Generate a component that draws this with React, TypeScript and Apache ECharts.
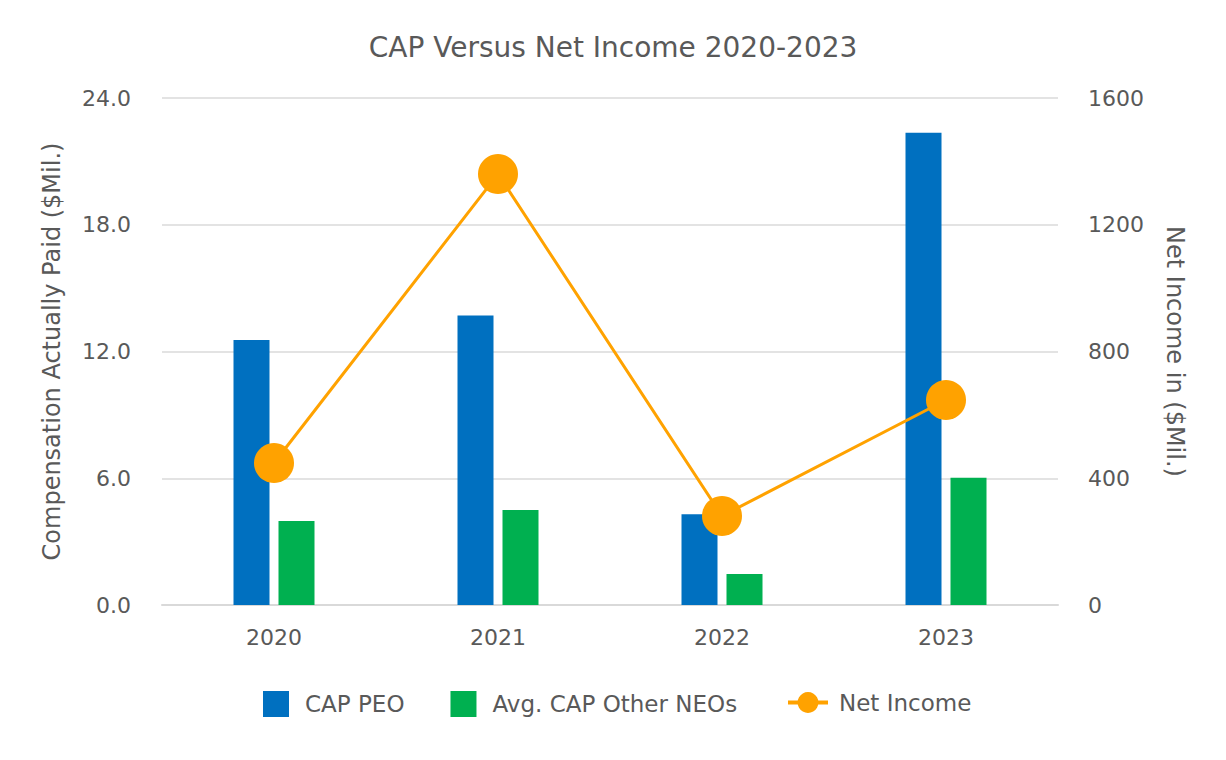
import React, { useEffect, useRef } from "react";
import * as echarts from "echarts";

const categories = ["2020", "2021", "2022", "2023"];
const capPeo = [12.55, 13.7, 4.3, 22.35];
const capNeo = [3.98, 4.5, 1.47, 6.02];
const netIncome = [448, 1360, 281, 647];

const FONT = "'DejaVu Sans', sans-serif";
const TXT = "#595959";

export default function App() {
  const ref = useRef<HTMLDivElement>(null);
  useEffect(() => {
    if (!ref.current) return;
    const chart = echarts.init(ref.current, undefined, { renderer: "svg" });
    const legendText = { fontFamily: FONT, color: TXT, fontSize: 23, padding: [0, 0, 0, 11] };
    chart.setOption({
      animation: false,
      textStyle: { fontFamily: FONT, color: TXT },
      title: {
        text: "CAP Versus Net Income 2020-2023",
        left: "center",
        top: 28,
        textStyle: { fontFamily: FONT, color: TXT, fontSize: 28, fontWeight: "normal" },
      },
      legend: [
        {
          left: 258,
          top: 686,
          itemWidth: 26,
          itemHeight: 26,
          itemGap: 46,
          textStyle: legendText,
          data: [
            { name: "CAP PEO", icon: "rect" },
            { name: "Avg. CAP Other NEOs", icon: "rect" },
          ],
        },
        {
          left: 781,
          top: 686,
          itemWidth: 40,
          itemHeight: 26,
          textStyle: { ...legendText, padding: [0, 0, 0, 6] },
          data: [{ name: "Net Income", lineStyle: { width: 4 } }],
        },
      ],
      grid: { left: 162, right: 168, top: 98, bottom: 155 },
      xAxis: {
        type: "category",
        data: categories,
        axisTick: { show: false },
        axisLine: { lineStyle: { color: "#D9D9D9", width: 2 } },
        axisLabel: { color: TXT, fontSize: 22, margin: 21, fontFamily: FONT },
      },
      yAxis: [
        {
          type: "value",
          min: 0,
          max: 24,
          interval: 6,
          name: "Compensation Actually Paid ($Mil.)",
          nameLocation: "middle",
          nameGap: 98,
          nameTextStyle: { color: TXT, fontSize: 24, fontFamily: FONT },
          axisLabel: {
            color: TXT,
            fontSize: 22,
            margin: 31,
            fontFamily: FONT,
            formatter: (v: number) => v.toFixed(1),
          },
          splitLine: { lineStyle: { color: "#E3E3E3", width: 2 } },
          axisLine: { show: false },
          axisTick: { show: false },
        },
        {
          type: "value",
          min: 0,
          max: 1600,
          interval: 400,
          name: "Net Income in ($Mil.)",
          nameLocation: "middle",
          nameGap: 105,
          nameRotate: -90,
          nameTextStyle: { color: TXT, fontSize: 24, fontFamily: FONT },
          axisLabel: {
            color: TXT,
            fontSize: 22,
            margin: 30,
            fontFamily: FONT,
            formatter: (v: number) => String(v),
          },
          splitLine: { show: false },
          axisLine: { show: false },
          axisTick: { show: false },
        },
      ],
      series: [
        {
          name: "CAP PEO",
          type: "bar",
          data: capPeo,
          barWidth: 36,
          barGap: "25%",
          itemStyle: { color: "#0070C0" },
        },
        {
          name: "Avg. CAP Other NEOs",
          type: "bar",
          data: capNeo,
          barWidth: 36,
          barGap: "25%",
          itemStyle: { color: "#00B050" },
        },
        {
          name: "Net Income",
          type: "line",
          yAxisIndex: 1,
          data: netIncome,
          symbol: "circle",
          symbolSize: 40,
          lineStyle: { color: "#FFA200", width: 3 },
          itemStyle: { color: "#FFA200" },
        },
      ],
    });
    return () => chart.dispose();
  }, []);
  return (
    <div
      ref={ref}
      style={{ position: "absolute", left: 0, top: 0, width: 1226, height: 760 }}
    />
  );
}
